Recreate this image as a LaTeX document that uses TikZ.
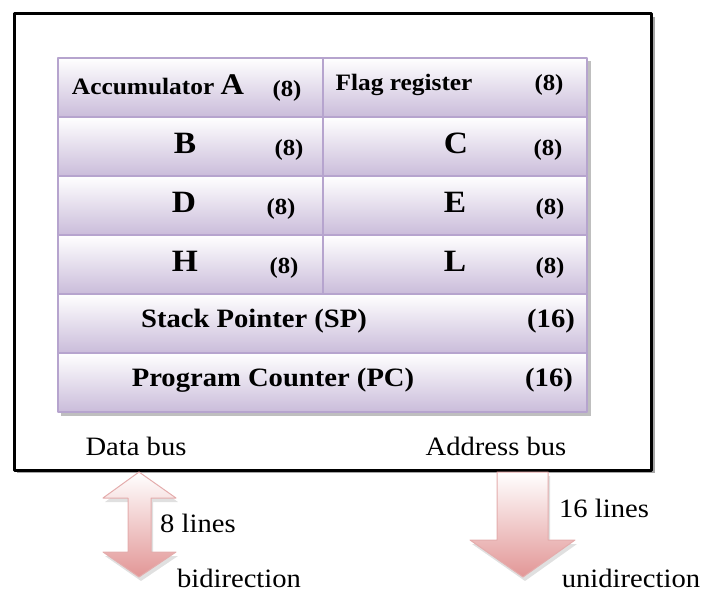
\documentclass[tikz,border=0pt]{standalone}
\usepackage{fontspec}
\setmainfont{Liberation Serif}[FakeStretch=1.08]
\definecolor{cellline}{RGB}{182,164,206}
\definecolor{cellfill}{RGB}{202,188,218}
\definecolor{busfill}{RGB}{226,150,150}
\definecolor{busline}{RGB}{228,172,172}
\begin{document}
\begin{tikzpicture}[x=1pt,y=-1pt,line join=round,
    cell/.style={draw=cellline,line width=1.5,top color=white,bottom color=cellfill},
    bus/.style={draw=busline,line width=1,top color=white,bottom color=busfill},
    reg/.style={anchor=base,font=\bfseries\fontsize{23.5}{23.5}\selectfont},
    big/.style={anchor=base,font=\bfseries\fontsize{31}{31}\selectfont},
    wide/.style={anchor=base,font=\bfseries\fontsize{26.5}{26.5}\selectfont},
    bits/.style={anchor=base,font=\bfseries\fontsize{23}{23}\selectfont},
    txt/.style={anchor=base,font=\fontsize{26.5}{26.5}\selectfont}]
  \useasboundingbox (0,0) rectangle (707,594);
  % outer box
  \fill[black!35] (17,17) rectangle (655,473);
  \draw[line width=3,fill=white] (14,14) rectangle (651,470);
  % register table
  \def\xl{58}
  \def\xm{323}
  \def\xr{587}
  \fill[black!25] (61,61) rectangle (591,416);
  \foreach \i in {0,...,3}
  {
    \draw[cell] (\xl,58+59*\i) rectangle (\xm,117+59*\i);
    \draw[cell] (\xm,58+59*\i) rectangle (\xr,117+59*\i);
  }
  \foreach \i in {4,5}
    \draw[cell] (\xl,58+59*\i) rectangle (\xr,117+59*\i);
  \node[reg] (acc) at (158,95) {Accumulator {\fontsize{30}{30}\selectfont A}};
  \node[bits] (accbits) at (287,96) {(8)};
  \node[reg] (flag) at (404,90) {Flag register};
  \node[bits] (flagbits) at (549,90) {(8)};
  \foreach \l/\xa/\xb/\r/\xc/\xd [count=\i] in {B/185/289/C/456/548,D/184/281/E/455/550,H/185/284/L/455/550}
  {
    \node[big] (reg\l) at (\xa,94+59*\i) {\l};
    \node[bits] (bits\l) at (\xb,96+59*\i) {(8)};
    \node[big] (reg\r) at (\xc,94+59*\i) {\r};
    \node[bits] (bits\r) at (\xd,96+59*\i) {(8)};
  }
  \node[wide] (sp) at (254,327) {Stack Pointer (SP)};
  \node[wide] (spbits) at (551,327) {(16)};
  \node[wide] (pc) at (273,386) {Program Counter (PC)};
  \node[wide] (pcbits) at (549,386) {(16)};
  % buses
  \node[txt] (data) at (136,455) {Data bus};
  \node[txt] (addr) at (496,455) {Address bus};
  \fill[black!12] (141,476) -- (178,502) -- (153,502) -- (153,556) -- (178,556) -- (141,581) -- (105,556) -- (130,556) -- (130,502) -- (105,502) -- cycle;
  \fill[black!12] (499,476) -- (550,476) -- (550,544) -- (577,544) -- (525,581) -- (472,544) -- (499,544) -- cycle;
  \draw[bus] (139,472) -- (176,498) -- (151,498) -- (151,552) -- (176,552) -- (139,577) -- (103,552) -- (128,552) -- (128,498) -- (103,498) -- cycle;
  \draw[bus] (497,472) -- (548,472) -- (548,540) -- (575,540) -- (523,577) -- (470,540) -- (497,540) -- cycle;
  \node[txt] (datalines) at (198,532) {8 lines};
  \node[txt] (addrlines) at (604,517) {16 lines};
  \node[txt] (datadir) at (239,587) {bidirection};
  \node[txt] (addrdir) at (631,587) {unidirection};
\end{tikzpicture}
\end{document}
